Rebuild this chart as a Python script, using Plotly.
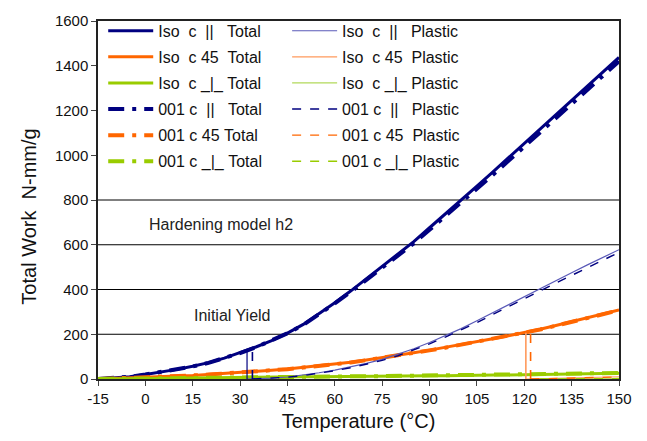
import plotly.graph_objects as go

# ---------------- data ----------------
T = [-15, -10, -5, 0, 5, 10, 15, 20, 25, 30, 35, 40, 45, 50, 55, 60, 65, 70, 75, 80,
     85, 90, 95, 100, 105, 110, 115, 120, 125, 130, 135, 140, 145, 150]

iso_par_total = [0, 4, 10, 20, 31, 43, 57, 73, 93, 117, 143, 172, 205, 244, 291, 341, 393, 448,
                 502, 556, 614, 676, 737, 799, 862, 925, 989, 1053, 1117, 1181, 1245, 1309, 1373, 1437]
c001_par_total = [0, 4, 10, 20, 31, 43, 56, 72, 92, 116, 142, 171, 204, 242, 289, 338, 389, 442,
                  495, 549, 606, 667, 727, 788, 850, 912, 975, 1038, 1101, 1164, 1228, 1292, 1356, 1420]
iso_45_total = [0, 2, 4, 7, 10, 13, 16, 20, 24, 28, 33, 39, 45, 52, 59, 67, 75, 85, 95, 106,
                117, 129, 141, 154, 167, 180, 193, 206, 222, 239, 256, 273, 291, 309]
c001_45_total = [0, 2, 4, 7, 10, 13, 16, 20, 24, 28, 33, 38, 44, 51, 58, 66, 74, 84, 94, 105,
                 116, 128, 140, 153, 166, 179, 192, 205, 221, 238, 255, 272, 290, 307]
iso_perp_total = [0, 1, 2, 3, 4, 5, 5, 6, 7, 7, 8, 9, 9, 10, 10, 11, 11, 12, 12, 13,
                  13, 14, 14, 15, 16, 16, 17, 18, 19, 20, 21, 22, 24, 26]
c001_perp_total = [0, 1, 2, 3, 4, 5, 6, 6, 7, 8, 8, 9, 10, 10, 11, 11, 12, 12, 13, 13,
                   14, 15, 15, 16, 16, 17, 18, 19, 20, 21, 22, 24, 25, 27]

iso_par_plastic_T = [32.2, 35, 40, 45, 50, 55, 60, 65, 70, 75, 80, 85, 90, 95, 100, 105, 110,
                     115, 120, 125, 130, 135, 140, 145, 150]
iso_par_plastic = [0, 1, 4, 9, 17, 28, 40, 54, 70, 88, 110, 135, 163, 193, 225, 260, 296,
                   333, 370, 405, 440, 475, 510, 544, 578]
c001_par_plastic_T = [33.9, 35, 40, 45, 50, 55, 60, 65, 70, 75, 80, 85, 90, 95, 100, 105, 110,
                      115, 120, 125, 130, 135, 140, 145, 150]
c001_par_plastic = [0, 0.5, 3, 8, 15, 25, 37, 50, 65, 83, 104, 129, 157, 187, 218, 252, 288,
                    324, 360, 395, 429, 463, 497, 531, 566]
iso_45_plastic_T = [120.5, 125, 130, 135, 140, 145, 150]
iso_45_plastic = [0, 2, 3, 5, 6, 8, 10]
c001_45_plastic_T = [122, 125, 130, 135, 140, 145, 150]
c001_45_plastic = [0, 1, 2, 4, 5, 7, 9]
iso_perp_plastic_T = [125, 130, 135, 140, 145, 150]
iso_perp_plastic = [0, 0, 0.5, 1, 1.5, 2]
c001_perp_plastic_T = [125, 130, 135, 140, 145, 150]
c001_perp_plastic = [0, 0, 0.5, 1, 1.5, 2]

# initial-yield markers: temperature, work level at yield
yield_iso_par = ([32.2, 32.2], [0, 127])
yield_001_par = ([33.9, 33.9], [0, 132])
yield_iso_45 = ([120.5, 120.5], [0, 207])
yield_001_45 = ([122, 122], [0, 212])

grid_levels = [200, 400, 600, 800]
x_ticks = [-15, 0, 15, 30, 45, 60, 75, 90, 105, 120, 135, 150]
x_tick_text = ["-15", "0", "15", "30", "45", "60", "75", "90", "105", "120", "135", "150"]
y_ticks = [0, 200, 400, 600, 800, 1000, 1200, 1400, 1600]

NAVY = "#000080"
NAVY_L = "#5a5ab8"
ORANGE = "#ff6600"
ORANGE_L = "#ff9a5c"
GREEN = "#99cc00"
GREEN_L = "#b2d95a"
S = "\u00a0"

fig = go.Figure()

def add(x, y, name, color, width, dash, legend, group):
    fig.add_trace(go.Scatter(x=x, y=y, name=name, mode="lines",
                             line=dict(color=color, width=width, dash=dash),
                             legend=legend, legendgroup=group))

LD = "16px,8px,4px,8px"
# column 1 (Total)
add(T, iso_par_total, f"Iso{S}{S}c{S}{S}||{S}{S}{S}Total", NAVY, 3, "solid", "legend", "a1")
add(T, iso_45_total, f"Iso{S}{S}c{S}45{S}{S}Total", ORANGE, 3, "solid", "legend", "a2")
add(T, iso_perp_total, f"Iso{S}{S}c{S}_|_{S}Total", GREEN, 3, "solid", "legend", "a3")
add(T, c001_par_total, f"001{S}c{S}{S}||{S}{S}{S}Total", NAVY, 4, LD, "legend", "a4")
add(T, c001_45_total, f"001{S}c{S}45{S}Total", ORANGE, 4, LD, "legend", "a5")
add(T, c001_perp_total, f"001{S}c{S}_|_{S}Total", GREEN, 4, LD, "legend", "a6")
# column 2 (Plastic)
add(iso_par_plastic_T, iso_par_plastic, f"Iso{S}{S}c{S}{S}||{S}{S}{S}Plastic", NAVY_L, 1.2, "solid", "legend2", "b1")
add(iso_45_plastic_T, iso_45_plastic, f"Iso{S}{S}c{S}45{S}{S}Plastic", ORANGE_L, 1.2, "solid", "legend2", "b2")
add(iso_perp_plastic_T, iso_perp_plastic, f"Iso{S}{S}c{S}_|_{S}Plastic", GREEN_L, 1.2, "solid", "legend2", "b3")
add(c001_par_plastic_T, c001_par_plastic, f"001{S}c{S}{S}||{S}{S}{S}Plastic", NAVY, 1.4, "dash", "legend2", "b4")
add(c001_45_plastic_T, c001_45_plastic, f"001{S}c{S}45{S}{S}Plastic", ORANGE, 1.4, "dash", "legend2", "b5")
add(c001_perp_plastic_T, c001_perp_plastic, f"001{S}c{S}_|_{S}Plastic", GREEN, 1.4, "dash", "legend2", "b6")

for (xy, color, width, dash) in [(yield_iso_par, NAVY, 1.2, "solid"), (yield_001_par, NAVY, 1.6, "dash"),
                                 (yield_iso_45, ORANGE_L, 1.6, "solid"), (yield_001_45, ORANGE, 1.6, "dash")]:
    fig.add_trace(go.Scatter(x=xy[0], y=xy[1], mode="lines", showlegend=False,
                             line=dict(color=color, width=width, dash=dash), hoverinfo="skip"))

for g in grid_levels:
    fig.add_shape(type="line", xref="paper", x0=0, x1=1, yref="y", y0=g, y1=g,
                  line=dict(color="#000000", width=1), layer="below")

FONT = "Liberation Sans, Arial, sans-serif"
fig.add_annotation(x=24, y=690, text="Hardening model h2", showarrow=False,
                   font=dict(family=FONT, size=16, color="#222"))
fig.add_annotation(x=27.5, y=283, text="Initial Yield", showarrow=False,
                   font=dict(family=FONT, size=16, color="#222"))
fig.add_annotation(xref="paper", yref="paper", x=-0.1324, y=0.4536, textangle=-90,
                   text=f"Total Work{S}{S}N-mm/g", showarrow=False, xanchor="center", yanchor="middle",
                   font=dict(family=FONT, size=20, color="#111"))

legend_common = dict(bgcolor="rgba(255,255,255,0)", borderwidth=0, orientation="v",
                     font=dict(family=FONT, size=16, color="#111"), tracegroupgap=2.3,
                     xanchor="left", yanchor="top", itemwidth=45)
fig.update_layout(
    width=647, height=441,
    margin=dict(l=98, r=28, t=14, b=61),
    paper_bgcolor="white", plot_bgcolor="white",
    showlegend=True,
    legend=dict(x=0.01, y=1.02, **legend_common),
    legend2=dict(x=0.363, y=1.02, **legend_common),
    xaxis=dict(range=[-15, 150], tickvals=x_ticks, ticktext=x_tick_text, ticks="outside", ticklen=5,
               showgrid=False, zeroline=False, showline=True, linecolor="#222", linewidth=1.5,
               mirror=True, tickfont=dict(family=FONT, size=15, color="#111"),
               title=dict(text="Temperature (°C)", font=dict(family=FONT, size=20, color="#111"), standoff=8)),
    yaxis=dict(range=[0, 1600], tickvals=y_ticks, ticks="outside", ticklen=5,
               showgrid=False, zeroline=False, showline=True, linecolor="#222", linewidth=1.5,
               mirror=True, tickfont=dict(family=FONT, size=15, color="#111")),
)

fig.write_html("out.html")
